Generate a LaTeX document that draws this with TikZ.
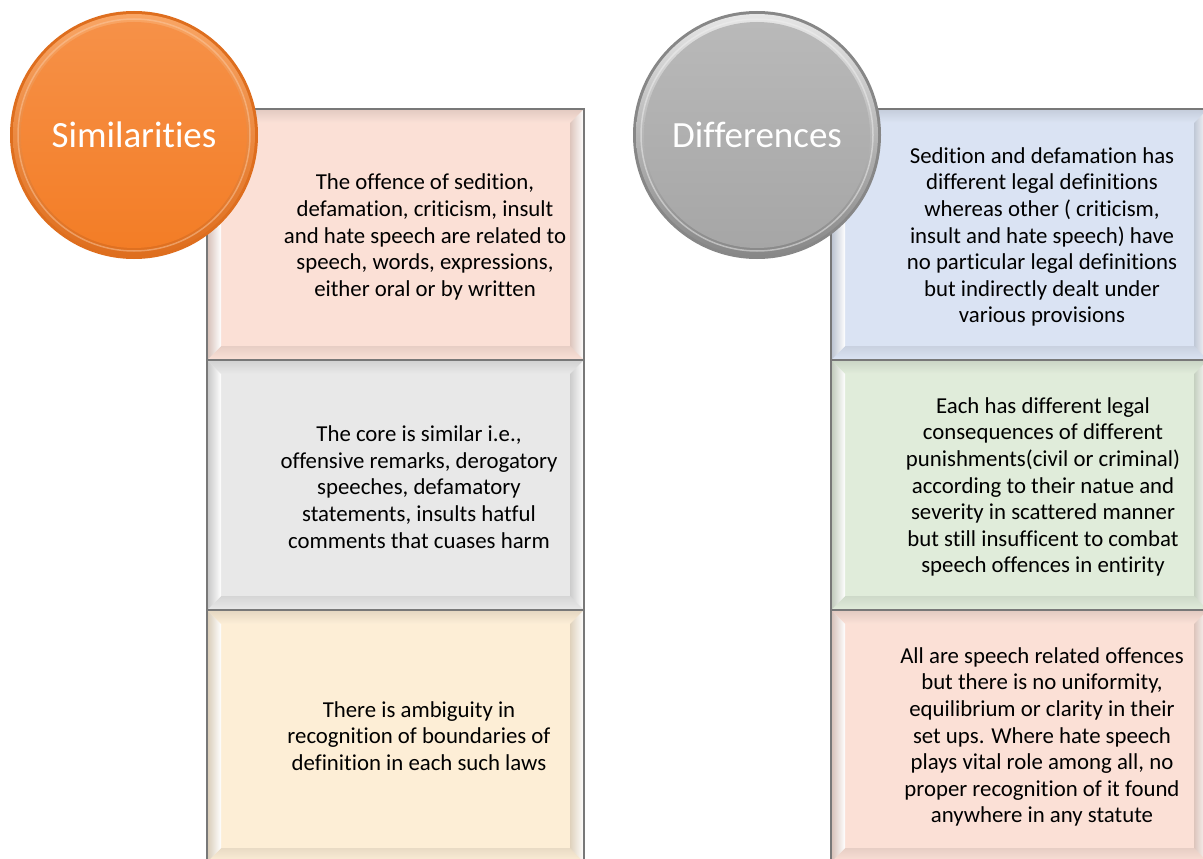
\documentclass[tikz,border=0pt]{standalone}
\usepackage{fontspec}
\setmainfont{Carlito}[RawFeature={-liga;-clig;-calt;-dlig}]
\usetikzlibrary{calc}

\definecolor{peach}{RGB}{251,224,214}
\definecolor{lightgrey}{RGB}{232,232,232}
\definecolor{cream}{RGB}{253,238,214}
\definecolor{paleblue}{RGB}{218,227,243}
\definecolor{palegreen}{RGB}{224,236,218}
\definecolor{panelborder}{RGB}{120,120,120}
\definecolor{orangedark}{RGB}{222,110,30}
\definecolor{orangemid}{RGB}{243,125,38}
\definecolor{orangelight}{RGB}{249,165,100}
\definecolor{orangetop}{RGB}{246,145,72}
\definecolor{greydark}{RGB}{135,135,135}
\definecolor{greymid}{RGB}{166,166,166}
\definecolor{greylight}{RGB}{230,230,230}
\definecolor{greytop}{RGB}{185,185,185}

\tikzset{
  paneltext/.style={align=center, text=black,
    font=\fontsize{22.8}{26.6}\selectfont},
  badgetext/.style={text=white, font=\fontsize{37}{42}\selectfont},
}

% bevelled panel: #1 x0, #2 y0, #3 x1, #4 y1, #5 fill colour
\newcommand\bevelpanel[5]{%
  \fill[#5] (#1,#2) rectangle (#3,#4);
  \shade[top color=#5!90!black, bottom color=#5!96!white]
    (#1,#2) -- (#3,#2) -- (#3-14,#2+14) -- (#1+14,#2+14) -- cycle;
  \shade[top color=#5!92!black, bottom color=#5!97!white]
    (#1+14,#4-14) -- (#3-14,#4-14) -- (#3,#4) -- (#1,#4) -- cycle;
  \shade[left color=#5!85!black, right color=white]
    (#1,#2) -- (#1+14,#2+14) -- (#1+14,#4-14) -- (#1,#4) -- cycle;
  \shade[left color=#5!88!black, right color=white]
    (#3-14,#2+14) -- (#3,#2) -- (#3,#4) -- (#3-14,#4-14) -- cycle;
  \draw[panelborder, line width=1.2pt] (#1,#2) rectangle (#3,#4);
}

% round badge: #1 name, #2 centre, #3 dark, #4 mid, #5 light, #6 top, #7 label
\newcommand\badge[7]{%
  \fill[#3] (#2) circle (124);
  \shade[top color=#5, bottom color=#3] (#2) circle (121);
  \shade[top color=#6, bottom color=#4] (#2) circle (113);
  \draw[#5!60!white, line width=1.5pt, opacity=0.5] (#2) circle (116);
  \node[badgetext] (#1) at (#2) {#7};
}

\begin{document}
\begin{tikzpicture}[x=1pt, y=-1pt]
  \clip (0,0) rectangle (1203,859);
  \fill[white] (0,0) rectangle (1203,859);

  % left column
  \bevelpanel{207}{109}{584}{360}{peach}
  \bevelpanel{207}{360}{584}{610}{lightgrey}
  \bevelpanel{207}{610}{584}{862}{cream}

  % right column
  \bevelpanel{831}{109}{1208}{360}{paleblue}
  \bevelpanel{831}{360}{1208}{610}{palegreen}
  \bevelpanel{831}{610}{1208}{862}{peach}

  \node[paneltext] (sim1) at (425,237) {The offence of sedition,\\defamation, criticism, insult\\and hate speech are related to\\speech, words, expressions,\\either oral or by written};
  \node[paneltext] (sim2) at (419,487) {The core is similar i.e.,\\offensive remarks, derogatory\\speeches, defamatory\\statements, insults hatful\\comments that cuases harm};
  \node[paneltext] (sim3) at (419,736) {There is ambiguity in\\recognition of boundaries of\\definition in each such laws};

  \node[paneltext] (dif1) at (1042,237) {Sedition and defamation has\\different legal definitions\\whereas other ( criticism,\\insult and hate speech) have\\no particular legal definitions\\but indirectly dealt under\\various provisions};
  \node[paneltext] (dif2) at (1043,487) {Each has different legal\\consequences of different\\punishments(civil or criminal)\\according to their natue and\\severity in scattered manner\\but still insufficent to combat\\speech offences in entirity};
  \node[paneltext] (dif3) at (1042,737) {All are speech related offences\\but there is no uniformity,\\equilibrium or clarity in their\\set ups. Where hate speech\\plays vital role among all, no\\proper recognition of it found\\anywhere in any statute};

  % headline badges
  \coordinate (simc) at (134,135);
  \coordinate (difc) at (757,135);
  \badge{simbadge}{simc}{orangedark}{orangemid}{orangelight}{orangetop}{Similarities}
  \badge{difbadge}{difc}{greydark}{greymid}{greylight}{greytop}{Differences}
\end{tikzpicture}
\end{document}
